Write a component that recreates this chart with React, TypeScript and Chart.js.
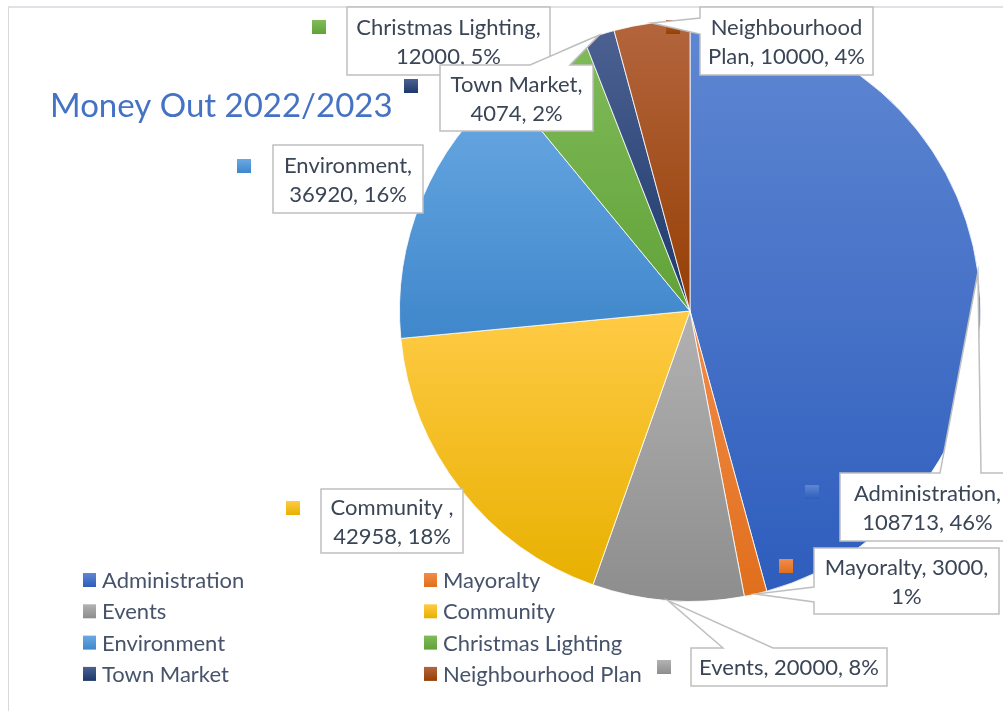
import React, { useEffect, useRef } from "react";
import { Chart, registerables } from "chart.js";

Chart.register(...registerables);

const categories = [
  "Administration",
  "Mayoralty",
  "Events",
  "Community",
  "Environment",
  "Christmas Lighting",
  "Town Market",
  "Neighbourhood Plan",
];
const amounts = [108713, 3000, 20000, 42958, 36920, 12000, 4074, 10000];
const percents = ["46%", "1%", "8%", "18%", "16%", "5%", "2%", "4%"];
const labelLines = [
  ["Administration,", "108713, 46%"],
  ["Mayoralty, 3000,", "1%"],
  ["Events, 20000, 8%"],
  ["Community ,", "42958, 18%"],
  ["Environment,", "36920, 16%"],
  ["Christmas Lighting,", "12000, 5%"],
  ["Town Market,", "4074, 2%"],
  ["Neighbourhood", "Plan, 10000, 4%"],
];
const titleText = "Money Out 2022/2023";

// styles
const topColors = ["#5f87d2", "#f28c4a", "#b2b2b2", "#ffcb45", "#6aa9e3", "#80bb5a", "#4c6191", "#b3653d"];
const bottomColors = ["#2e5dbd", "#e06f1c", "#8d8d8d", "#e8b000", "#3f87cb", "#61a238", "#1c396c", "#963f05"];

// layout of data-label boxes: x, y, w, h, pointer edge and base span
const labelBoxes = [
  { x: 840, y: 473, w: 175, h: 68, edge: "top", a: 940, b: 981 },
  { x: 814, y: 548, w: 185, h: 66, edge: "left", a: 587, b: 602 },
  { x: 691, y: 648, w: 196, h: 38, edge: "top", a: 723, b: 773 },
  { x: 321, y: 489, w: 142, h: 64, edge: "", a: 0, b: 0 },
  { x: 273, y: 145, w: 150, h: 68, edge: "", a: 0, b: 0 },
  { x: 347, y: 7, w: 203, h: 68, edge: "", a: 0, b: 0 },
  { x: 440, y: 65, w: 153, h: 66, edge: "top", a: 530, b: 570 },
  { x: 700, y: 7, w: 173, h: 68, edge: "left", a: 18, b: 34 },
];
const labelKeys = [
  [805, 485],
  [779, 559],
  [657, 660],
  [286, 501],
  [237, 159],
  [312, 20],
  [404, 79],
  [666, 20],
];

const LABEL_FONT = "22px Lato, 'Noto Sans', sans-serif";
const LEGEND_FONT = "22px Lato, 'Noto Sans', sans-serif";
const TITLE_FONT = "33px Lato, 'Noto Sans', sans-serif";

function keyGradient(ctx: CanvasRenderingContext2D, i: number, y: number, s: number) {
  const g = ctx.createLinearGradient(0, y, 0, y + s);
  g.addColorStop(0, topColors[i]);
  g.addColorStop(1, bottomColors[i]);
  return g;
}

const decorPlugin = {
  id: "decor",
  afterDraw(chart: any) {
    const ctx: CanvasRenderingContext2D = chart.ctx;
    const meta = chart.getDatasetMeta(0);
    ctx.save();

    // frame
    ctx.strokeStyle = "#dfe3e8";
    ctx.lineWidth = 2;
    ctx.beginPath();
    ctx.moveTo(8, 7);
    ctx.lineTo(1003, 7);
    ctx.stroke();
    ctx.strokeStyle = "#d9d9d9";
    ctx.lineWidth = 1;
    ctx.beginPath();
    ctx.moveTo(8.5, 7);
    ctx.lineTo(8.5, 711);
    ctx.stroke();

    // title
    ctx.fillStyle = "#4472c4";
    ctx.font = TITLE_FONT;
    ctx.textBaseline = "alphabetic";
    ctx.textAlign = "left";
    ctx.fillText(titleText, 50, 117);

    // label keys (drawn under the callouts)
    labelKeys.forEach(([x, y], i) => {
      ctx.fillStyle = keyGradient(ctx, i, y, 14);
      ctx.fillRect(x, y, 14, 14);
    });

    // data labels
    labelBoxes.forEach((b, i) => {
      const arc = meta.data[i];
      const p = arc.getProps(["x", "y", "startAngle", "endAngle", "outerRadius"], true);
      const mid = (p.startAngle + p.endAngle) / 2;
      const tx = p.x + Math.cos(mid) * p.outerRadius;
      const ty = p.y + Math.sin(mid) * p.outerRadius;
      ctx.beginPath();
      if (b.edge === "top") {
        ctx.moveTo(b.x, b.y);
        ctx.lineTo(b.a, b.y);
        ctx.lineTo(tx, ty);
        ctx.lineTo(b.b, b.y);
        ctx.lineTo(b.x + b.w, b.y);
        ctx.lineTo(b.x + b.w, b.y + b.h);
        ctx.lineTo(b.x, b.y + b.h);
        ctx.closePath();
      } else if (b.edge === "left") {
        ctx.moveTo(b.x, b.y);
        ctx.lineTo(b.x + b.w, b.y);
        ctx.lineTo(b.x + b.w, b.y + b.h);
        ctx.lineTo(b.x, b.y + b.h);
        ctx.lineTo(b.x, b.b);
        ctx.lineTo(tx, ty);
        ctx.lineTo(b.x, b.a);
        ctx.closePath();
      } else {
        ctx.rect(b.x, b.y, b.w, b.h);
      }
      ctx.fillStyle = "#ffffff";
      ctx.fill();
      ctx.strokeStyle = "#bfbfbf";
      ctx.lineWidth = 1.5;
      ctx.stroke();

      ctx.fillStyle = "#3a4556";
      ctx.font = LABEL_FONT;
      ctx.textAlign = "center";
      ctx.textBaseline = "middle";
      const lines = labelLines[i];
      const lh = 29;
      const cy = b.y + b.h / 2;
      lines.forEach((t, k) => {
        ctx.fillText(t, b.x + b.w / 2, cy + (k - (lines.length - 1) / 2) * lh + 1);
      });
    });

    // legend
    ctx.font = LEGEND_FONT;
    ctx.textAlign = "left";
    ctx.textBaseline = "middle";
    categories.forEach((c, i) => {
      const col = i % 2;
      const row = Math.floor(i / 2);
      const sx = col === 0 ? 83 : 424;
      const cy = 580 + row * 31.3;
      ctx.fillStyle = keyGradient(ctx, i, cy - 7, 14);
      ctx.fillRect(sx, cy - 7, 13, 14);
      ctx.fillStyle = "#46536a";
      ctx.fillText(c, sx + 19, cy + 1);
    });

    ctx.restore();
  },
};

export default function App() {
  const ref = useRef<HTMLCanvasElement | null>(null);
  useEffect(() => {
    if (!ref.current) return;
    const total = amounts.reduce((s, v) => s + v, 0);
    const chart = new Chart(ref.current, {
      type: "pie",
      data: {
        labels: categories,
        datasets: [
          {
            data: amounts,
            backgroundColor: (c: any) => {
              const i = c.dataIndex;
              const area = c.chart.chartArea;
              if (!area || i === undefined) return bottomColors[i ?? 0];
              const cy = (area.top + area.bottom) / 2;
              const r = Math.min(area.width, area.height) / 2;
              let cum = 0;
              for (let j = 0; j < i; j++) cum += amounts[j];
              const a0 = -Math.PI / 2 + (cum / total) * Math.PI * 2;
              const a1 = a0 + (amounts[i] / total) * Math.PI * 2;
              let yMin = cy;
              let yMax = cy;
              for (let k = 0; k <= 60; k++) {
                const a = a0 + ((a1 - a0) * k) / 60;
                const y = cy + r * Math.sin(a);
                if (y < yMin) yMin = y;
                if (y > yMax) yMax = y;
              }
              const g = c.chart.ctx.createLinearGradient(0, yMin, 0, yMax);
              g.addColorStop(0, topColors[i]);
              g.addColorStop(1, bottomColors[i]);
              return g;
            },
            borderColor: "rgba(255,255,255,0.8)",
            borderWidth: 1,
          },
        ],
      },
      options: {
        responsive: false,
        animation: false,
        devicePixelRatio: 1,
        layout: { padding: { left: 399, top: 20, right: 22, bottom: 109 } },
        plugins: {
          legend: { display: false },
          title: { display: false },
          tooltip: { enabled: false },
        },
      },
      plugins: [decorPlugin],
    });
    return () => chart.destroy();
  }, []);
  return (
    <div style={{ position: "fixed", left: 0, top: 0, width: 1003, height: 711, background: "#ffffff" }}>
      <canvas ref={ref} width={1003} height={711} style={{ width: 1003, height: 711, display: "block" }} />
    </div>
  );
}
